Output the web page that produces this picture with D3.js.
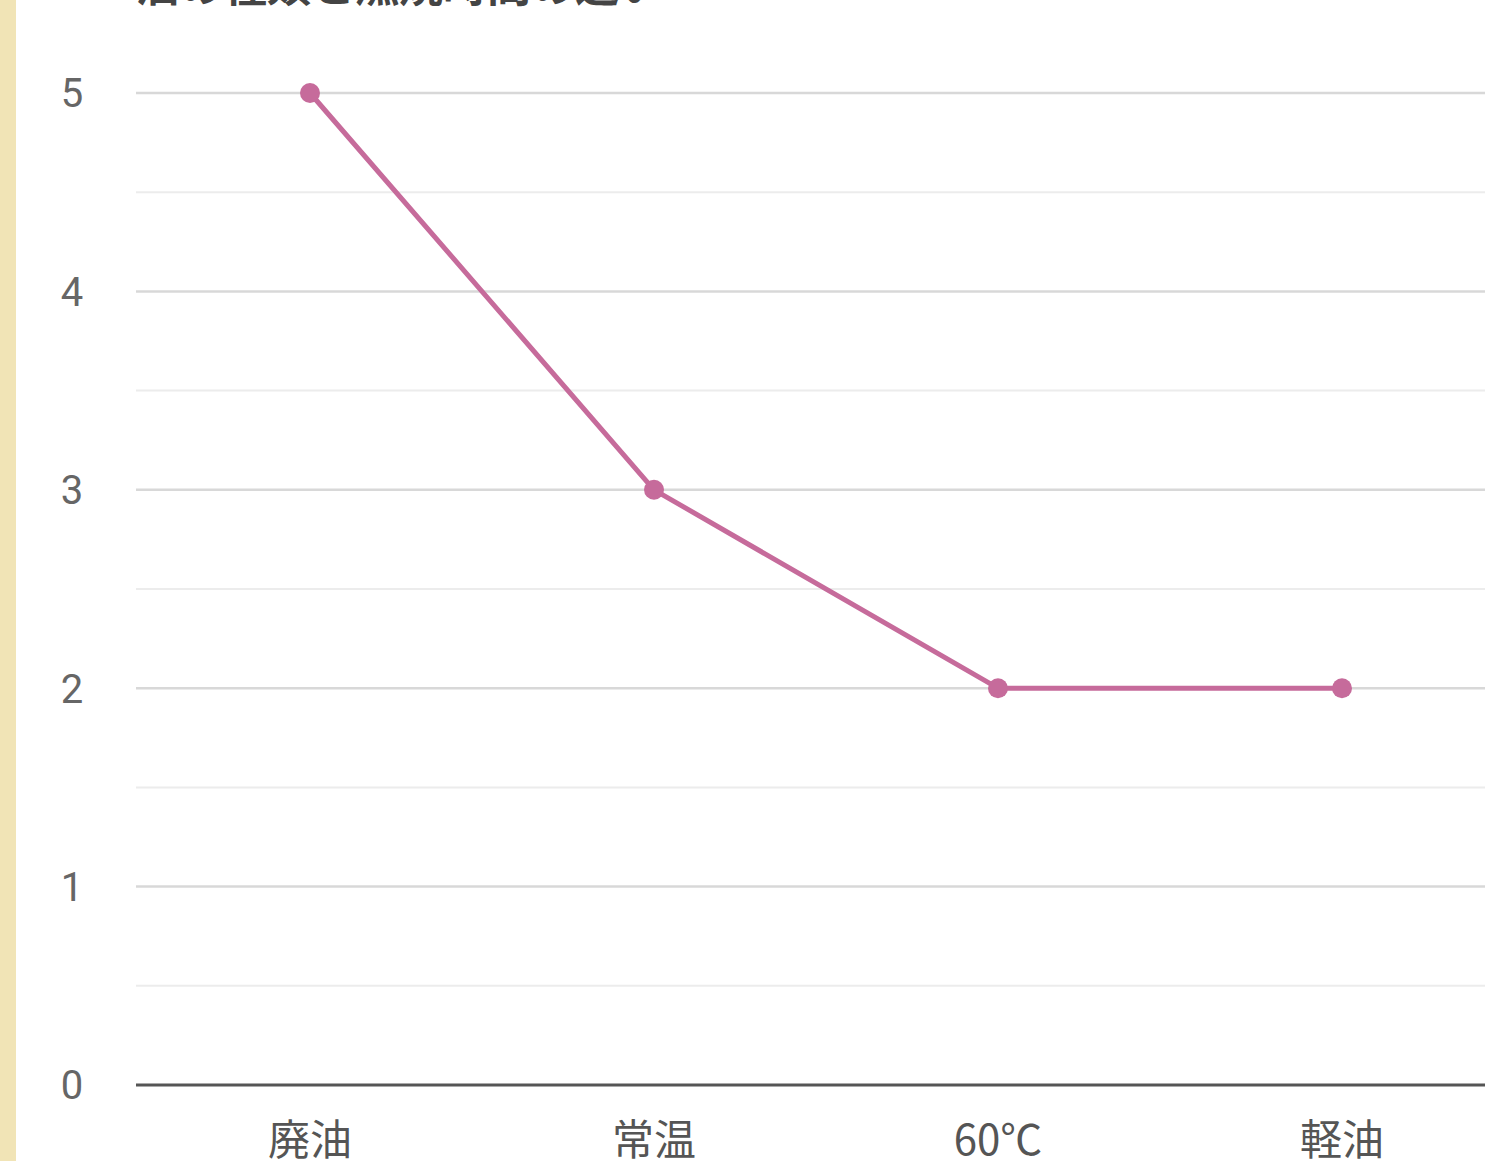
<!DOCTYPE html>
<html>
<head>
<meta charset="utf-8">
<script src="https://cdn.jsdelivr.net/npm/d3@7"></script>
<style>
  html, body { margin: 0; padding: 0; background: #fff; overflow: hidden; }
  svg { display: block; }
</style>
</head>
<body>
<div id="chart"></div>
<script>
const categories = ["廃油", "常温", "60℃", "軽油"];
const values = [5, 3, 2, 2];
const yTicks = [0, 1, 2, 3, 4, 5];
const minorTicks = [0.5, 1.5, 2.5, 3.5, 4.5];
const title = "油の種類と燃焼時間の違い";

const width = 1485;
const height = 1161;

const svg = d3.select("#chart")
  .append("svg")
  .attr("width", width)
  .attr("height", height);

// beige strip on the left
svg.append("rect")
  .attr("x", 0).attr("y", 0)
  .attr("width", 16).attr("height", height)
  .attr("fill", "#f1e4b6");

const x = d3.scaleBand()
  .domain(categories)
  .range([138, 1514]);

const y = d3.scaleLinear()
  .domain([0, 5])
  .range([1085, 93]);

// title, mostly cut off at the top
svg.append("text")
  .attr("x", 135)
  .attr("y", 2)
  .attr("font-family", "Noto Sans CJK JP")
  .attr("font-size", 44)
  .attr("font-weight", "bold")
  .attr("fill", "#444")
  .text(title);

// minor grid
svg.selectAll(".minor")
  .data(minorTicks)
  .enter()
  .append("line")
  .attr("x1", 136).attr("x2", width)
  .attr("y1", d => y(d)).attr("y2", d => y(d))
  .attr("stroke", "#ececec")
  .attr("stroke-width", 2);

// major grid
svg.selectAll(".major")
  .data(yTicks.filter(d => d > 0))
  .enter()
  .append("line")
  .attr("x1", 136).attr("x2", width)
  .attr("y1", d => y(d)).attr("y2", d => y(d))
  .attr("stroke", "#d8d8d8")
  .attr("stroke-width", 2.5);

// baseline
svg.append("line")
  .attr("x1", 136).attr("x2", width)
  .attr("y1", y(0)).attr("y2", y(0))
  .attr("stroke", "#555")
  .attr("stroke-width", 3);

// y labels
svg.selectAll(".ylab")
  .data(yTicks)
  .enter()
  .append("text")
  .attr("x", 72)
  .attr("y", d => y(d))
  .attr("dy", "0.36em")
  .attr("text-anchor", "middle")
  .attr("font-family", "Roboto")
  .attr("font-size", 40)
  .attr("fill", "#666")
  .text(d => d);

// x labels
svg.selectAll(".xlab")
  .data(categories)
  .enter()
  .append("text")
  .attr("x", d => x(d) + x.bandwidth() / 2)
  .attr("y", 1155)
  .attr("text-anchor", "middle")
  .attr("font-family", "Noto Sans CJK JP")
  .attr("font-size", 42)
  .attr("fill", "#555")
  .text(d => d);

const pts = categories.map((c, i) => [x(c) + x.bandwidth() / 2, y(values[i])]);

svg.append("path")
  .attr("d", d3.line()(pts))
  .attr("fill", "none")
  .attr("stroke", "#c66b9b")
  .attr("stroke-width", 5)
  .attr("stroke-linejoin", "round");

svg.selectAll(".dot")
  .data(pts)
  .enter()
  .append("circle")
  .attr("cx", d => d[0])
  .attr("cy", d => d[1])
  .attr("r", 10)
  .attr("fill", "#c66b9b");
</script>
</body>
</html>
